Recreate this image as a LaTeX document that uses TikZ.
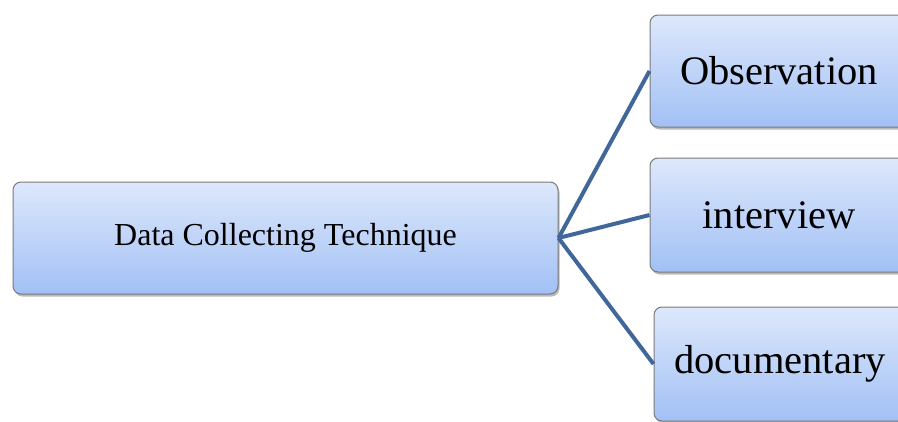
\documentclass[tikz,border=0pt]{standalone}
\usepackage{fontspec}
\setmainfont{Liberation Serif}
\usetikzlibrary{shadows,shadings}
\definecolor{boxtop}{HTML}{DDE8FB}
\definecolor{boxbot}{HTML}{A2C0F5}
\definecolor{boxedge}{HTML}{7A7A7A}
\definecolor{linkc}{HTML}{41679A}
\tikzset{
  box/.style={rectangle, rounded corners=8pt, draw=boxedge, line width=1pt,
    top color=boxtop, bottom color=boxbot, inner sep=0pt,
    drop shadow={shadow xshift=1.5pt, shadow yshift=-2.5pt, opacity=0.45, fill=black!60}},
  link/.style={draw=linkc, line width=4pt}
}
\begin{document}
\begin{tikzpicture}[x=1pt,y=-1pt]
\useasboundingbox (0,0) rectangle (898,421);
\clip (0,0) rectangle (898,421);
\node[box, minimum width=545pt, minimum height=112pt, font=\fontsize{32}{38}\selectfont] (main) at (285.5,238) {Data Collecting Technique};
\node[box, minimum width=258pt, minimum height=112pt, font=\fontsize{40.5}{46}\selectfont] (obs) at (779,71) {Observation};
\node[box, minimum width=258pt, minimum height=114pt, font=\fontsize{40.5}{46}\selectfont] (int) at (779,215) {interview};
\node[box, minimum width=252pt, minimum height=114pt, font=\fontsize{40.5}{46}\selectfont] (doc) at (780,364) {documentary};
\draw[link] (main.east) -- (obs.west);
\draw[link] (main.east) -- (int.west);
\draw[link] (main.east) -- (doc.west);
\end{tikzpicture}
\end{document}
